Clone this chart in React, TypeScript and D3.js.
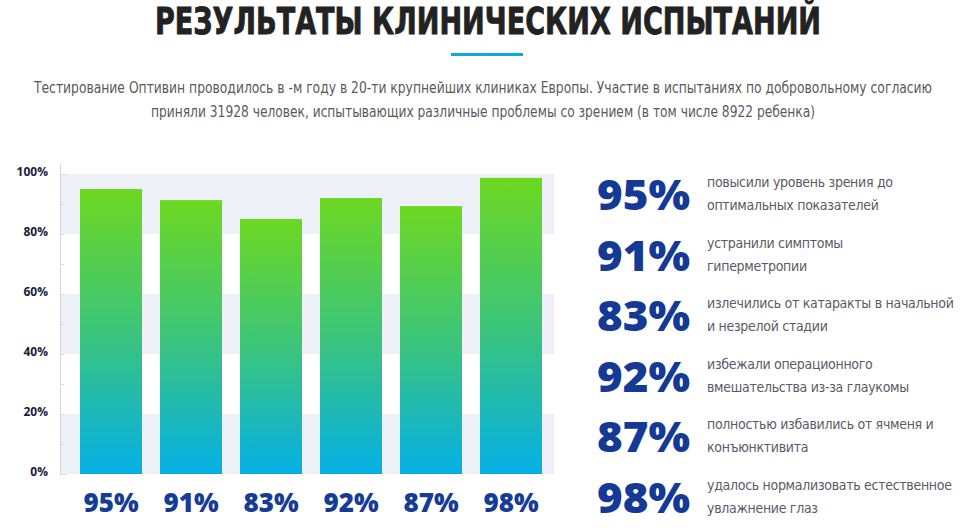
import React from "react";
import * as d3 from "d3";

const title = "РЕЗУЛЬТАТЫ КЛИНИЧЕСКИХ ИСПЫТАНИЙ";
const subtitleLines = [
  "Тестирование Оптивин проводилось в -м году в 20-ти крупнейших клиниках Европы. Участие в испытаниях по добровольному согласию",
  "приняли 31928 человек, испытывающих различные проблемы со зрением (в том числе 8922 ребенка)",
];
const categories = ["a", "b", "c", "d", "e", "f"];
const barValues = [95, 91.3, 85, 92, 89.3, 98.7];
const barLabels = ["95%", "91%", "83%", "92%", "87%", "98%"];
const yTicks = [0, 20, 40, 60, 80, 100];
const minorTicks = [0, 10, 20, 30, 40, 50, 60, 70, 80, 90, 100];
const bandRanges: [number, number][] = [[80, 100], [40, 60], [0, 20]];
const statNumbers = ["95%", "91%", "83%", "92%", "87%", "98%"];
const statTexts: [string, string][] = [
  ["повысили уровень зрения до", "оптимальных показателей"],
  ["устранили симптомы", "гиперметропии"],
  ["излечились от катаракты в начальной", "и незрелой стадии"],
  ["избежали операционного", "вмешательства из-за глаукомы"],
  ["полностью избавились от ячменя и", "конъюнктивита"],
  ["удалось нормализовать естественное", "увлажнение глаз"],
];

export default function App() {
  const W = 966, H = 532;
  const plotLeft = 60, plotRight = 554;
  const y = d3.scaleLinear().domain([0, 100]).range([474, 174]);
  const x = d3.scaleBand<string>().domain(categories).range([71, 551]).paddingInner(0.225).paddingOuter(0.1125);
  const rows = d3.scalePoint<number>().domain(d3.range(6)).range([210, 513]);

  const heavy = "'Open Sans', 'DejaVu Sans', sans-serif";
  const cond = "'DejaVu Sans Condensed', 'DejaVu Sans', sans-serif";

  return (
    <div style={{ position: "absolute", left: 0, top: 0 }}>
      <svg width={W} height={H} style={{ display: "block", background: "#fff" }}>
        <defs>
          <linearGradient id="barGrad" x1="0" y1="0" x2="0" y2="1">
            <stop offset="0%" stopColor="#6dd822" />
            <stop offset="50%" stopColor="#3cc57a" />
            <stop offset="100%" stopColor="#05afe6" />
          </linearGradient>
        </defs>

        <text x={155} y={34} fontFamily={cond} fontStretch="condensed" fontWeight={700} fontSize={37}
          fill="#222" stroke="#222" strokeWidth={0.8} textLength={666} lengthAdjust="spacingAndGlyphs">{title}</text>
        <rect x={451} y={53} width={72} height={3} fill="#0aa8e6" />

        {subtitleLines.map((t, i) => (
          <text key={i} x={483} y={93 + i * 24} textAnchor="middle" fontFamily={cond} fontStretch="condensed"
            fontSize={15.5} fill="#5a5a5a" textLength={i === 0 ? 898 : 664} lengthAdjust="spacingAndGlyphs">{t}</text>
        ))}

        {bandRanges.map(([a, b], i) => (
          <rect key={i} x={plotLeft} y={y(b)} width={plotRight - plotLeft} height={y(a) - y(b)} fill="#edf0f6" />
        ))}

        <line x1={60.5} x2={60.5} y1={164} y2={474} stroke="#d4d4d8" />
        {minorTicks.map((v) => (
          <line key={v} x1={60} x2={v % 100 === 0 ? 67 : 64} y1={y(v) + 0.5} y2={y(v) + 0.5} stroke="#dcdce2" />
        ))}
        {yTicks.map((v) => (
          <text key={v} x={48} y={y(v) + 1.8} textAnchor="end" fontFamily={heavy} fontWeight={700}
            fontSize={12} fill="#1c1c3a">{v}%</text>
        ))}

        {categories.map((c, i) => (
          <rect key={c} x={x(c)} y={y(barValues[i])} width={x.bandwidth()} height={y(0) - y(barValues[i])}
            fill="url(#barGrad)" />
        ))}
        {categories.map((c, i) => (
          <text key={c} x={(x(c) as number) + x.bandwidth() / 2} y={512} textAnchor="middle" fontFamily={heavy}
            fontWeight={800} fontSize={26} fill="#163c98">{barLabels[i]}</text>
        ))}

        {statNumbers.map((s, i) => (
          <g key={i}>
            <text x={597} y={rows(i)} fontFamily={heavy} fontWeight={800} fontSize={42} fill="#143a96"
              textLength={93} lengthAdjust="spacingAndGlyphs">{s}</text>
            <text x={707} y={(rows(i) as number) - 23} fontFamily={cond} fontStretch="condensed" fontSize={14}
              letterSpacing={-0.3} fill="#5b5b66">{statTexts[i][0]}</text>
            <text x={707} y={rows(i)} fontFamily={cond} fontStretch="condensed" fontSize={14}
              letterSpacing={-0.3} fill="#5b5b66">{statTexts[i][1]}</text>
          </g>
        ))}
      </svg>
    </div>
  );
}
